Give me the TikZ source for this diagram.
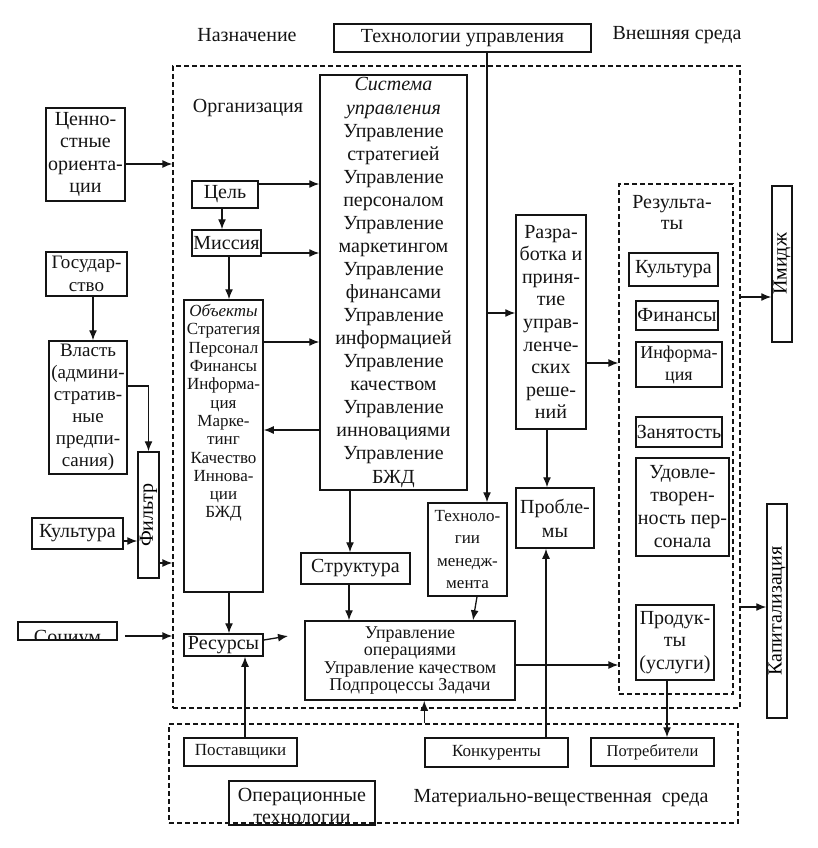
\documentclass[tikz,border=0pt]{standalone}
\usepackage{fontspec}
\setmainfont{Liberation Serif}
\usepackage{tikz}
\usetikzlibrary{arrows.meta, positioning, calc}
\definecolor{schemeink}{HTML}{141414}

\tikzset{
  box/.style={draw=schemeink, line width=1.5pt, inner sep=0pt, align=center, text=schemeink},
  zone/.style={draw=schemeink, line width=1.3pt, dash pattern=on 5pt off 3pt, inner sep=0pt},
  arr/.style={draw=schemeink, line width=1.3pt, -{Latex[length=10pt,width=8pt]}},
  plain/.style={inner sep=0pt, align=center, text=schemeink},
  small/.style={font=\fontsize{17}{18.3}\selectfont},
}

\begin{document}
\begin{tikzpicture}[x=1pt, y=-1pt, font=\fontsize{20}{22.5}\selectfont]
  \useasboundingbox (0,0) rectangle (817,848);

  % zones
  \node[zone, minimum width=567, minimum height=642] (org) at (456.5,387) {};
  \node[zone, minimum width=569, minimum height=99] (mat) at (453.5,773.5) {};
  \node[zone, minimum width=114, minimum height=510] (res) at (676,439) {};

  \node[plain] (nazn) at (247,35) {Назначение};
  \node[box, minimum width=257, minimum height=28] (techu) at (462.5,38) {Технологии управления};
  \node[plain] (vnesh) at (677,35) {Внешняя среда};
  \node[plain] (orgname) at (248,108) {Организация};

  % outside, left
  \node[box, minimum width=79, minimum height=93] (cen) at (85.5,154.5) {Ценно-\\стные\\ориента-\\ции};
  \node[box, minimum width=81, minimum height=44, font=\fontsize{19}{23}\selectfont] (gos) at (86.5,274) {Государ-\\ство};
  \node[box, minimum width=78, minimum height=133, font=\fontsize{19}{22}\selectfont] (vlast) at (88,407.5)
    {Власть\\(админи-\\стратив-\\ные\\предпи-\\сания)};
  \node[box, minimum width=21, minimum height=126, label={[rotate=90, inner sep=0pt]center:Фильтр}] (filt) at (148.5,515) {};
  \node[box, minimum width=91, minimum height=31] (kult) at (77.5,533.5) {Культура};
  \node[box, minimum width=99, minimum height=18] (soc) at (67.5,631) {};
  \begin{scope}
    \clip (soc.south west) rectangle (soc.north east);
    \node[plain, anchor=base] (soctxt) at (67.5,643) {Социум};
  \end{scope}

  % organisation
  \node[box, minimum width=66, minimum height=27] (tsel) at (225,194.5) {Цель};
  \node[box, minimum width=69, minimum height=26] (miss) at (226.5,243) {Миссия};
  \node[box, minimum width=79, minimum height=292] (obj) at (223.5,446) {};
  \node[plain, small] (objtxt) at (223.5,413)
    {\textit{Объекты}\\Стратегия\\Персонал\\Финансы\\Информа-\\ция\\Марке-\\тинг\\Качество\\Иннова-\\ции\\БЖД};
  \node[box, minimum width=79, minimum height=22] (resu) at (223.5,645) {Ресурсы};
  \node[box, minimum width=147, minimum height=415, font=\fontsize{20}{23.06}\selectfont] (sys) at (393.5,282.5)
    {\textit{Система}\\\textit{управления}\\Управление\\стратегией\\Управление\\персоналом\\Управление\\маркетингом\\Управление\\финансами\\Управление\\информацией\\Управление\\качеством\\Управление\\инновациями\\Управление\\БЖД};
  \node[box, minimum width=109, minimum height=31] (struct) at (355.5,568.5) {Структура};
  \node[box, minimum width=79, minimum height=93, font=\fontsize{17}{22.5}\selectfont] (tm) at (467.5,549.5)
    {Техноло-\\гии\\менедж-\\мента};
  \node[box, minimum width=210, minimum height=79, font=\fontsize{18}{17.3}\selectfont] (opr) at (410,660.5)
    {Управление\\операциями\\Управление качеством\\Подпроцессы Задачи};
  \node[box, minimum width=70, minimum height=214, font=\fontsize{20}{22.6}\selectfont] (razr) at (551,322)
    {Разра-\\ботка и\\приня-\\тие\\управ-\\ленче-\\ских\\реше-\\ний};
  \node[box, minimum width=78, minimum height=60, font=\fontsize{20}{24}\selectfont] (probl) at (555,518) {Пробле-\\мы};

  % results
  \node[plain, font=\fontsize{20}{21}\selectfont] (restxt) at (672,212.5) {Результа-\\ты};
  \node[box, minimum width=89, minimum height=33] (rcult) at (673.5,269.5) {Культура};
  \node[box, minimum width=82, minimum height=29] (rfin) at (677,315.5) {Финансы};
  \node[box, minimum width=86, minimum height=45, font=\fontsize{18}{22}\selectfont] (rinf) at (679,364.5) {Информа-\\ция};
  \node[box, minimum width=86, minimum height=30] (rzan) at (679,432) {Занятость};
  \node[box, minimum width=93, minimum height=98, font=\fontsize{20}{23}\selectfont] (rudov) at (682.5,507)
    {Удовле-\\творен-\\ность пер-\\сонала};
  \node[box, minimum width=78, minimum height=75, font=\fontsize{20}{22.5}\selectfont] (rprod) at (675,642.5)
    {Продук-\\ты\\(услуги)};
  \node[box, minimum width=20, minimum height=156, label={[rotate=90, inner sep=0pt]center:Имидж}] (imidzh) at (782,264) {};
  \node[box, minimum width=20, minimum height=214, label={[rotate=90, inner sep=0pt]center:Капитализация}] (kapit) at (777,611) {};

  % material environment
  \node[box, minimum width=113, minimum height=28, small] (post) at (240.5,752) {Поставщики};
  \node[box, minimum width=143, minimum height=29, small] (konk) at (496.5,752.5) {Конкуренты};
  \node[box, minimum width=123, minimum height=28, font=\fontsize{16.5}{18}\selectfont] (potr) at (652.5,752) {Потребители};
  \node[box, minimum width=146, minimum height=44] (opteh) at (302,803) {};
  \begin{scope}
    \clip (opteh.south west) rectangle (opteh.north east);
    \node[plain, font=\fontsize{20}{22}\selectfont] (optehtxt) at (302,806) {Операционные\\технологии};
  \end{scope}
  \node[plain] (mattxt) at (561,798) {Материально-вещественная\ \ среда};

  % connectors
  \coordinate (tmfork) at (487,313);
  \coordinate (resuend) at (288,636);
  \draw[arr] (cen.east |- 0,164) -- (org.west |- 0,164);
  \draw[arr] (gos.south -| 93,0) -- (vlast.north -| 93,0);
  \draw[arr] (vlast.east |- 0,386) -| (filt.north);
  \draw[arr] (kult.east |- 0,541) -- (filt.west |- 0,541);
  \draw[arr] (filt.east |- 0,563) -- (org.west |- 0,563);
  \draw[arr, shorten <=7pt] (soc.east |- 0,636) -- (org.west |- 0,636);
  \draw[arr] (tsel.east |- 0,184) -- (sys.west |- 0,184);
  \draw[arr] (tsel.south -| 222,0) -- (miss.north -| 222,0);
  \draw[arr] (miss.east |- 0,253) -- (sys.west |- 0,253);
  \draw[arr] (miss.south -| 229,0) -- (obj.north -| 229,0);
  \draw[arr] (obj.east |- 0,342) -- (sys.west |- 0,342);
  \draw[arr] (sys.west |- 0,430) -- (obj.east |- 0,430);
  \draw[arr] (obj.south -| 229,0) -- (resu.north -| 229,0);
  \draw[arr] (resu.east |- 0,640) -- (resuend);
  \draw[arr] (post.north -| 245,0) -- (resu.south -| 245,0);
  \draw[arr] (sys.south -| 350,0) -- (struct.north -| 350,0);
  \draw[arr] (struct.south -| 349,0) -- (opr.north -| 349,0);
  \draw[arr] (techu.south -| tmfork) -- (tm.north -| tmfork);
  \draw[arr] (tmfork) -- (razr.west |- tmfork);
  \draw[arr] (tm.south -| 477,0) -- (opr.north -| 473,0);
  \draw[arr] (opr.east |- 0,665) -- (res.west |- 0,665);
  \draw[arr] (mat.north -| konk.west) -- (opr.south -| konk.west);
  \draw[arr] (konk.north -| 546,0) -- (probl.south -| 546,0);
  \draw[arr] (razr.south -| 547,0) -- (probl.north -| 547,0);
  \draw[arr] (razr.east |- 0,363) -- (res.west |- 0,363);
  \draw[arr] (org.east |- 0,297) -- (imidzh.west |- 0,297);
  \draw[arr] (org.east |- 0,607) -- (kapit.west |- 0,607);
  \draw[arr] (rprod.south -| 667,0) -- (potr.north -| 667,0);
\end{tikzpicture}
\end{document}
